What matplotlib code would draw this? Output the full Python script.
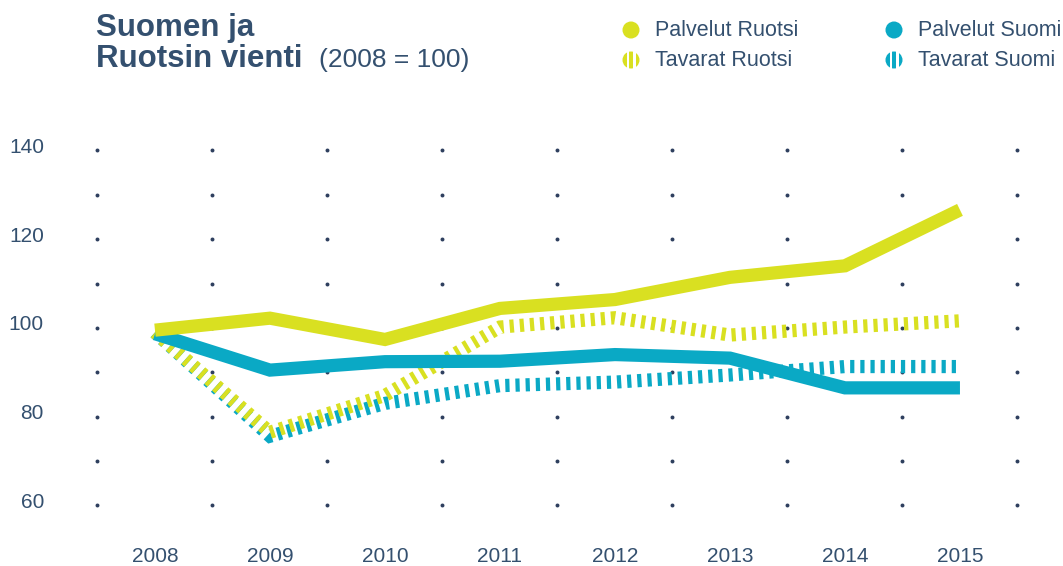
import matplotlib
matplotlib.use("Agg")
import matplotlib.pyplot as plt
from matplotlib.patches import Circle, Rectangle
from matplotlib.transforms import ScaledTranslation

# data (index 2008 = 100)
years = [2008, 2009, 2010, 2011, 2012, 2013, 2014, 2015]
palvelut_ruotsi = [99.5, 102.2, 97.4, 104.4, 106.4, 111.4, 114.0, 126.6]
palvelut_suomi = [98.7, 90.5, 92.4, 92.5, 94.0, 93.2, 86.5, 86.5]
tavarat_ruotsi = [99.0, 76.5, 84.8, 100.2, 102.3, 98.4, 100.2, 101.6]
tavarat_suomi = [99.0, 75.6, 83.0, 87.0, 87.8, 89.4, 91.3, 91.3]
y_ticks = [60, 80, 100, 120, 140]
dot_rows = [60, 70, 80, 90, 100, 110, 120, 130, 140]

YELLOW = "#d9e021"
TEAL = "#0aa9c5"
NAVY = "#34506f"
DOT = "#2e3f5e"
FONT = "Liberation Sans"

W, H = 1063, 566
fig = plt.figure(figsize=(W / 100, H / 100), dpi=100)
ax = fig.add_axes([80 / W, 41 / H, 960 / W, 395 / H])

xs = list(range(len(years)))
ax.set_xlim(-0.652, 7.696)
ax.set_ylim(55.6, 144.6)

# dotted grid, columns halfway between the years
dot_cols = [i - 0.5 for i in range(len(years) + 1)]
for c in dot_cols:
    ax.scatter([c] * len(dot_rows), dot_rows, s=8, color=DOT, zorder=1, linewidths=0)

lw = 9.5
dash = (0, (0.32, 0.45))
ax.plot(xs, tavarat_suomi, color=TEAL, lw=lw, linestyle=dash, dash_capstyle="butt",
        dash_joinstyle="miter", zorder=2)
ax.plot(xs, tavarat_ruotsi, color=YELLOW, lw=lw, linestyle=dash, dash_capstyle="butt",
        dash_joinstyle="miter", zorder=3)
ax.plot(xs, palvelut_suomi, color=TEAL, lw=lw, solid_capstyle="butt",
        solid_joinstyle="miter", zorder=4)
ax.plot(xs, palvelut_ruotsi, color=YELLOW, lw=lw, solid_capstyle="butt",
        solid_joinstyle="miter", zorder=5)

ax.set_xticks(xs)
ax.set_xticklabels([str(y) for y in years])
ax.set_yticks(y_ticks)
ax.tick_params(length=0, labelsize=15, labelcolor=NAVY)
ax.tick_params(axis="x", pad=16)
ax.tick_params(axis="y", pad=26)
for lab in ax.get_xticklabels() + ax.get_yticklabels():
    lab.set_fontfamily(FONT)
shift = ScaledTranslation(0, 5 / 100, fig.dpi_scale_trans)
for lab in ax.get_yticklabels():
    lab.set_transform(lab.get_transform() + shift)
for s in ax.spines.values():
    s.set_visible(False)

# overlay in pixel units for title and legend
ov = fig.add_axes([0, 0, 1, 1])
ov.set_xlim(0, W)
ov.set_ylim(H, 0)
ov.axis("off")

ov.text(96, 36, "Suomen ja", fontsize=22.5, fontweight="bold", color=NAVY,
        family=FONT, va="baseline")
ov.text(96, 67, "Ruotsin vienti", fontsize=22.5, fontweight="bold", color=NAVY,
        family=FONT, va="baseline")
ov.text(319, 67, "(2008 = 100)", fontsize=19, color=NAVY, family=FONT, va="baseline")

legend = [
    (631, 30, YELLOW, False, "Palvelut Ruotsi"),
    (631, 60, YELLOW, True, "Tavarat Ruotsi"),
    (894, 30, TEAL, False, "Palvelut Suomi"),
    (894, 60, TEAL, True, "Tavarat Suomi"),
]
for x, y, col, striped, label in legend:
    ov.add_patch(Circle((x, y), 8.5, color=col, lw=0))
    if striped:
        ov.add_patch(Rectangle((x - 4.5, y - 9), 2.2, 18, color="white", lw=0))
        ov.add_patch(Rectangle((x + 2.3, y - 9), 2.2, 18, color="white", lw=0))
    ov.text(x + 24, y + 1, label, fontsize=15.5, color=NAVY, family=FONT, va="center")

fig.savefig("out.png", dpi=100)
